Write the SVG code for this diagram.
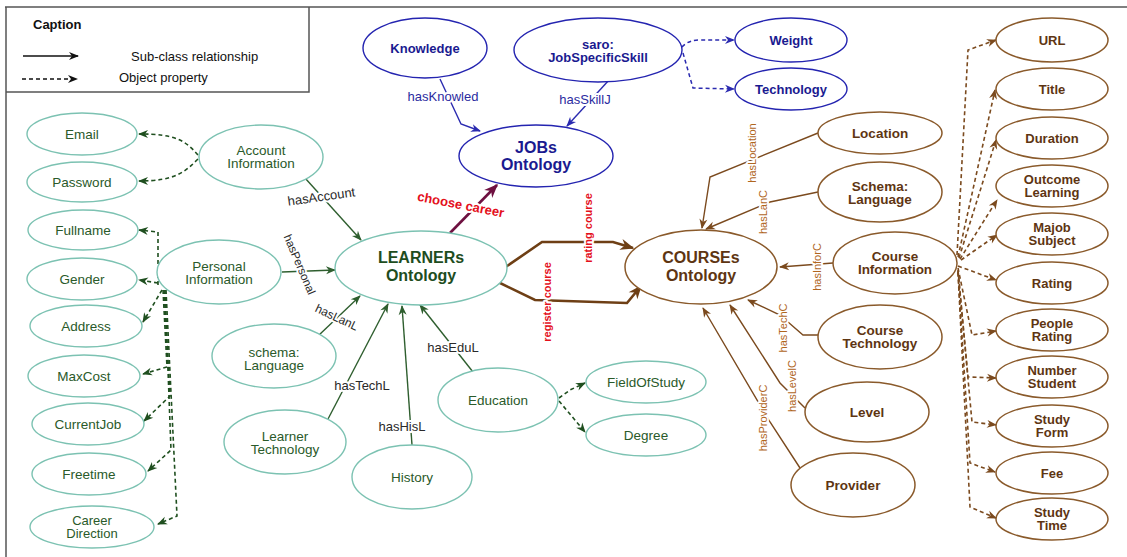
<svg xmlns="http://www.w3.org/2000/svg" width="1127" height="557" viewBox="0 0 1127 557">
<style>
text{font-family:"Liberation Sans",Arial,sans-serif;text-anchor:middle;}
.bl ellipse{fill:#fff;stroke:#2424b0;stroke-width:1.4}
.bl text{fill:#1a1a90;font-weight:bold;font-size:13px}
.gr ellipse{fill:#fff;stroke:#7cc2b2;stroke-width:1.4}
.gr text{fill:#2a5a2a;font-size:13.5px}
.br ellipse{fill:#fff;stroke:#8a5a2b;stroke-width:1.5}
.br text{fill:#5e3512;font-weight:bold;font-size:13.5px}
.rc text{font-size:13px}
.big{font-size:16px!important;font-weight:bold!important}
.c path{fill:none}
.cg{stroke:#2e5e2e;stroke-width:1.4}
.cgd{stroke:#1f4f1f;stroke-width:1.6;stroke-dasharray:4 3}
.cb{stroke:#2b2bb0;stroke-width:1.4}
.cbd{stroke:#2b2bb0;stroke-width:1.5;stroke-dasharray:4 3}
.cn{stroke:#7b4a1e;stroke-width:1.4}
.cnt{stroke:#6e3f15;stroke-width:2.6}
.cnd{stroke:#7b4a1e;stroke-width:1.6;stroke-dasharray:4 3}
.lbl{paint-order:stroke;stroke:#fff;stroke-width:4px;stroke-linejoin:round}
.lg{fill:#2a2a2a;font-size:13px}
.lb{fill:#2b2ba0;font-size:13px}
.ln{fill:#b0661e;font-size:11px}
.lr{fill:#e4101c;font-weight:bold;font-size:11px}
</style>
<defs>
<marker id="ag" viewBox="0 0 10 10" refX="9" refY="5" markerWidth="11" markerHeight="10" markerUnits="userSpaceOnUse" orient="auto"><path d="M0,1 L10,5 L0,9 L3,5z" fill="#2e5e2e"/></marker>
<marker id="agd" viewBox="0 0 10 10" refX="9" refY="5" markerWidth="11" markerHeight="10" markerUnits="userSpaceOnUse" orient="auto"><path d="M0,1 L10,5 L0,9 L3,5z" fill="#1f4f1f"/></marker>
<marker id="ab" viewBox="0 0 10 10" refX="9" refY="5" markerWidth="11" markerHeight="10" markerUnits="userSpaceOnUse" orient="auto"><path d="M0,1 L10,5 L0,9 L3,5z" fill="#2b2bb0"/></marker>
<marker id="an" viewBox="0 0 10 10" refX="9" refY="5" markerWidth="11" markerHeight="10" markerUnits="userSpaceOnUse" orient="auto"><path d="M0,1 L10,5 L0,9 L3,5z" fill="#7b4a1e"/></marker>
<marker id="ant" viewBox="0 0 10 10" refX="9" refY="5" markerWidth="16" markerHeight="14" markerUnits="userSpaceOnUse" orient="auto"><path d="M0,1 L10,5 L0,9 L3,5z" fill="#6e3f15"/></marker>
<marker id="am" viewBox="0 0 10 10" refX="9" refY="5" markerWidth="16" markerHeight="14" markerUnits="userSpaceOnUse" orient="auto"><path d="M0,1 L10,5 L0,9 L3,5z" fill="#6e1040"/></marker>
<marker id="ak" viewBox="0 0 10 10" refX="9" refY="5" markerWidth="11" markerHeight="10" markerUnits="userSpaceOnUse" orient="auto"><path d="M0,1 L10,5 L0,9 L3,5z" fill="#111"/></marker>
</defs>
<rect width="1127" height="557" fill="#fff"/>
<g id="frame" fill="none" stroke="#555" stroke-width="1.5">
<path d="M5,7 L1127,7 M6,7 L6,557"/>
<path d="M6,92 L309,92 L309,7"/>
</g>
<g id="caption">
<text x="33" y="29" style="text-anchor:start;font-weight:bold;font-size:13px" fill="#111">Caption</text>
<path d="M23,56 L78,56" stroke="#111" stroke-width="1.4" fill="none" marker-end="url(#ak)"/>
<text x="131" y="61" style="text-anchor:start;font-size:13px" fill="#111">Sub-class relationship</text>
<path d="M22,79 L77,79" stroke="#111" stroke-width="1.4" stroke-dasharray="4 3" fill="none" marker-end="url(#ak)"/>
<text x="119" y="82" style="text-anchor:start;font-size:13px" fill="#111">Object property</text>
</g>
<g id="connectors" class="c">
<path class="cb" d="M440,79 L461,124 L480,131" marker-end="url(#ab)"/>
<path class="cb" d="M609,80 L567,126" marker-end="url(#ab)"/>
<path class="cbd" d="M682,47 Q688,40 700,40 L734,40" marker-end="url(#ab)"/>
<path class="cbd" d="M683,53 L693,88 L734,89" marker-end="url(#ab)"/>
<path class="cg" d="M305,178 L361,240" marker-end="url(#ag)"/>
<path class="cg" d="M282,272 L335,270" marker-end="url(#ag)"/>
<path class="cg" d="M318,336 L360,296" marker-end="url(#ag)"/>
<path class="cg" d="M328,419 L388,304" marker-end="url(#ag)"/>
<path class="cg" d="M412,445 L402,306" marker-end="url(#ag)"/>
<path class="cg" d="M473,372 L420,305" marker-end="url(#ag)"/>
<path class="cgd" d="M559,398 L570,390 L585,383" marker-end="url(#agd)"/>
<path class="cgd" d="M559,401 L585,432" marker-end="url(#agd)"/>
<path class="cgd" d="M198,155 C185,140 175,134 139,134" marker-end="url(#agd)"/>
<path class="cgd" d="M198,159 C185,172 175,181 139,181" marker-end="url(#agd)"/>
<path class="cgd" d="M158,285 L158,232 L139,230" marker-end="url(#agd)"/>
<path class="cgd" d="M158,283 L139,280" marker-end="url(#agd)"/>
<path class="cgd" d="M162,290 L143,322" marker-end="url(#agd)"/>
<path class="cgd" d="M163,290 L167,367 L143,374" marker-end="url(#agd)"/>
<path class="cgd" d="M164,290 L170,396 L144,421" marker-end="url(#agd)"/>
<path class="cgd" d="M165,290 L171,450 L148,471" marker-end="url(#agd)"/>
<path class="cgd" d="M166,290 L177,516 L158,524" marker-end="url(#agd)"/>
<path class="cnt" d="M497,273 L542,242 L613,242 L633,248" marker-end="url(#ant)"/>
<path class="cnt" d="M498,282 L535,300 L627,303 L641,286" marker-end="url(#ant)"/>
<path d="M450,233 L497,185" stroke="#6e1040" stroke-width="2.6" marker-end="url(#am)"/>
<path class="cn" d="M818,133 L710,177 L702,228" marker-end="url(#an)"/>
<path class="cn" d="M818,192 L770,202 L706,229" marker-end="url(#an)"/>
<path class="cn" d="M833,263 L780,267" marker-end="url(#an)"/>
<path class="cn" d="M818,335 L803,335 L780,315 L748,300" marker-end="url(#an)"/>
<path class="cn" d="M805,408 L780,383 L730,305" marker-end="url(#an)"/>
<path class="cn" d="M800,468 L770,422 L703,308" marker-end="url(#an)"/>
<path class="cnd" d="M957,255 L968,50 L996,40" marker-end="url(#an)"/>
<path class="cnd" d="M958,257 L995,90" marker-end="url(#an)"/>
<path class="cnd" d="M959,258 L996,140" marker-end="url(#an)"/>
<path class="cnd" d="M960,259 L997,200" marker-end="url(#an)"/>
<path class="cnd" d="M961,260 L997,235" marker-end="url(#an)"/>
<path class="cnd" d="M958,266 L996,280" marker-end="url(#an)"/>
<path class="cnd" d="M958,268 L972,335 L996,331" marker-end="url(#an)"/>
<path class="cnd" d="M958,270 L968,377 L996,378" marker-end="url(#an)"/>
<path class="cnd" d="M958,271 L972,422 L996,425" marker-end="url(#an)"/>
<path class="cnd" d="M958,272 L970,463 L995,472" marker-end="url(#an)"/>
<path class="cnd" d="M958,273 L970,507 L996,518" marker-end="url(#an)"/>
</g>
<g id="edge-labels">
<text class="lbl lb" x="443" y="101">hasKnowled</text>
<text class="lbl lb" x="585" y="104">hasSkillJ</text>
<text class="lbl lg" transform="translate(322,201) rotate(-8)">hasAccount</text>
<text class="lbl lg" style="font-size:11.5px" transform="translate(296,266) rotate(67)">hasPersonal</text>
<text class="lbl lg" style="font-size:12px" transform="translate(335,321) rotate(25)">hasLanL</text>
<text class="lbl lg" x="362" y="390">hasTechL</text>
<text class="lbl lg" x="402" y="431">hasHisL</text>
<text class="lbl lg" x="453" y="352">hasEduL</text>
<text class="lbl lr" style="font-size:13px" transform="translate(460,209) rotate(11)">choose career</text>
<text class="lbl lr" transform="translate(592,228) rotate(-90)">rating course</text>
<text class="lbl lr" transform="translate(551,302) rotate(-90)">register course</text>
<text class="lbl ln" transform="translate(756,153) rotate(-90)">hasLocation</text>
<text class="lbl ln" transform="translate(767,212) rotate(-90)">hasLanC</text>
<text class="lbl ln" transform="translate(821,267) rotate(-90)">hasInforC</text>
<text class="lbl ln" transform="translate(787,328) rotate(-90)">hasTechC</text>
<text class="lbl ln" transform="translate(796,386) rotate(-90)">hasLevelC</text>
<text class="lbl ln" transform="translate(767,418) rotate(-90)">hasProviderC</text>
</g>
<g class="bl">
<g id="knowledge"><ellipse cx="425" cy="48" rx="62" ry="30"/><text x="425" y="53">Knowledge</text></g>
<g id="saro"><ellipse cx="598" cy="50" rx="84" ry="32"/><text x="598" y="49">saro:</text><text x="598" y="62">JobSpecificSkill</text></g>
<g id="weight"><ellipse cx="791" cy="40" rx="56" ry="22"/><text x="791" y="45">Weight</text></g>
<g id="technology"><ellipse cx="791" cy="89" rx="56" ry="21"/><text x="791" y="94">Technology</text></g>
<g id="jobs"><ellipse cx="536" cy="156" rx="77" ry="31"/><text class="big" x="536" y="153">JOBs</text><text class="big" x="536" y="170">Ontology</text></g>
</g>
<g class="gr">
<g id="email"><ellipse cx="82" cy="134" rx="55" ry="21"/><text x="82" y="139">Email</text></g>
<g id="password"><ellipse cx="82" cy="182" rx="55" ry="20"/><text x="82" y="187">Password</text></g>
<g id="account"><ellipse cx="261" cy="157" rx="62" ry="32"/><text x="261" y="155">Account</text><text x="261" y="168">Information</text></g>
<g id="fullname"><ellipse cx="83" cy="230" rx="55" ry="20"/><text x="83" y="235">Fullname</text></g>
<g id="gender"><ellipse cx="82" cy="279" rx="55" ry="21"/><text x="82" y="284">Gender</text></g>
<g id="personal"><ellipse cx="219" cy="272" rx="62" ry="32"/><text x="219" y="271">Personal</text><text x="219" y="284">Information</text></g>
<g id="address"><ellipse cx="86" cy="326" rx="56" ry="21"/><text x="86" y="331">Address</text></g>
<g id="maxcost"><ellipse cx="84" cy="376" rx="56" ry="21"/><text x="84" y="381">MaxCost</text></g>
<g id="currentjob"><ellipse cx="88" cy="424" rx="56" ry="21"/><text x="88" y="429">CurrentJob</text></g>
<g id="freetime"><ellipse cx="89" cy="474" rx="57" ry="21"/><text x="89" y="479">Freetime</text></g>
<g id="career"><ellipse cx="92" cy="527" rx="62" ry="21"/><text x="92" y="525" style="font-size:13px">Career</text><text x="92" y="538" style="font-size:13px">Direction</text></g>
<g id="schema-language-l"><ellipse cx="274" cy="356" rx="62" ry="32"/><text x="274" y="357">schema:</text><text x="274" y="370">Language</text></g>
<g id="learner-tech"><ellipse cx="285" cy="442" rx="61" ry="32"/><text x="285" y="441">Learner</text><text x="285" y="454">Technology</text></g>
<g id="history"><ellipse cx="412" cy="477" rx="60" ry="32"/><text x="412" y="482">History</text></g>
<g id="education"><ellipse cx="498" cy="400" rx="60" ry="32"/><text x="498" y="405">Education</text></g>
<g id="fieldofstudy"><ellipse cx="646" cy="382" rx="60" ry="21"/><text x="646" y="387">FieldOfStudy</text></g>
<g id="degree"><ellipse cx="646" cy="435" rx="60" ry="21"/><text x="646" y="440">Degree</text></g>
<g id="learners"><ellipse cx="421" cy="268" rx="86" ry="37"/><text class="big" x="421" y="263" style="fill:#1e4d1e">LEARNERs</text><text class="big" x="421" y="281" style="fill:#1e4d1e">Ontology</text></g>
</g>
<g class="br">
<g id="courses"><ellipse cx="701" cy="267" rx="76" ry="37"/><text class="big" x="701" y="263">COURSEs</text><text class="big" x="701" y="281">Ontology</text></g>
<g id="location"><ellipse cx="880" cy="133" rx="62" ry="21"/><text x="880" y="138">Location</text></g>
<g id="schema-language-c"><ellipse cx="880" cy="192" rx="62" ry="30"/><text x="880" y="191">Schema:</text><text x="880" y="204">Language</text></g>
<g id="course-info"><ellipse cx="895" cy="263" rx="62" ry="31"/><text x="895" y="261">Course</text><text x="895" y="274">Information</text></g>
<g id="course-tech"><ellipse cx="880" cy="337" rx="62" ry="32"/><text x="880" y="335">Course</text><text x="880" y="348">Technology</text></g>
<g id="level"><ellipse cx="867" cy="412" rx="62" ry="30"/><text x="867" y="417">Level</text></g>
<g id="provider"><ellipse cx="853" cy="485" rx="62" ry="32"/><text x="853" y="490">Provider</text></g>
</g>
<g class="br rc">
<g id="url"><ellipse cx="1052" cy="40" rx="56" ry="22"/><text x="1052" y="45">URL</text></g>
<g id="title"><ellipse cx="1052" cy="89" rx="56" ry="21"/><text x="1052" y="94">Title</text></g>
<g id="duration"><ellipse cx="1052" cy="138" rx="56" ry="21"/><text x="1052" y="143">Duration</text></g>
<g id="outcome"><ellipse cx="1052" cy="186" rx="56" ry="21"/><text x="1052" y="184">Outcome</text><text x="1052" y="197">Learning</text></g>
<g id="majob"><ellipse cx="1052" cy="234" rx="56" ry="21"/><text x="1052" y="232">Majob</text><text x="1052" y="245">Subject</text></g>
<g id="rating"><ellipse cx="1052" cy="283" rx="56" ry="21"/><text x="1052" y="288">Rating</text></g>
<g id="people-rating"><ellipse cx="1052" cy="330" rx="56" ry="21"/><text x="1052" y="328">People</text><text x="1052" y="341">Rating</text></g>
<g id="number-student"><ellipse cx="1052" cy="377" rx="56" ry="21"/><text x="1052" y="375">Number</text><text x="1052" y="388">Student</text></g>
<g id="study-form"><ellipse cx="1052" cy="426" rx="56" ry="21"/><text x="1052" y="424">Study</text><text x="1052" y="437">Form</text></g>
<g id="fee"><ellipse cx="1052" cy="473" rx="56" ry="21"/><text x="1052" y="478">Fee</text></g>
<g id="study-time"><ellipse cx="1052" cy="519" rx="56" ry="21"/><text x="1052" y="517">Study</text><text x="1052" y="530">Time</text></g>
</g>
</svg>
